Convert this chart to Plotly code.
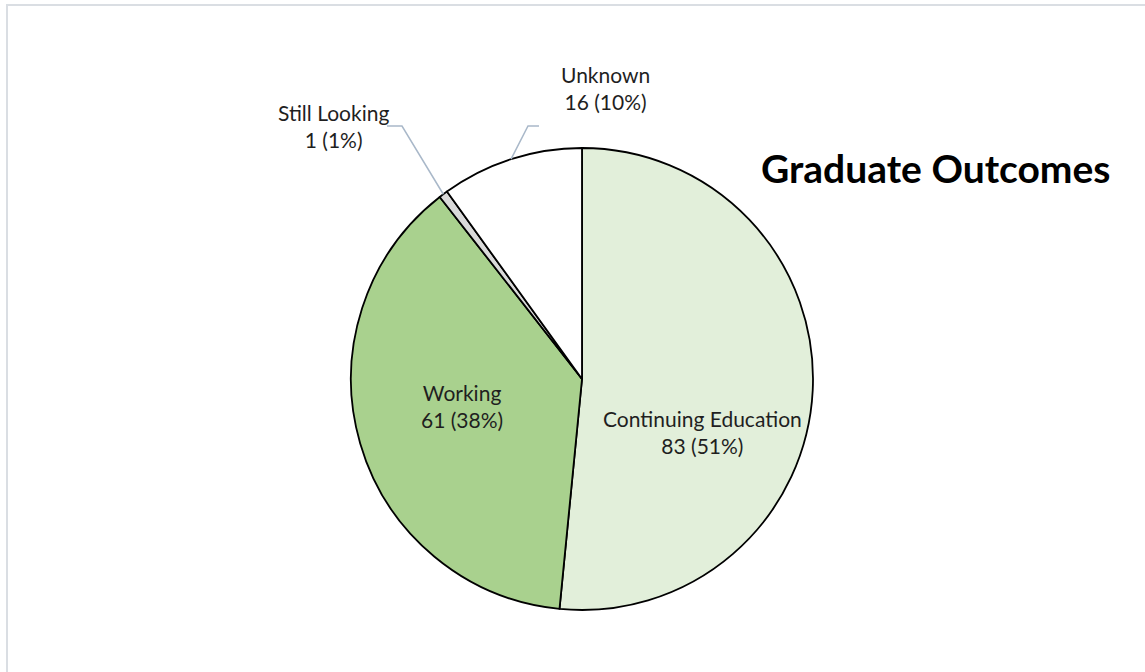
import math
import plotly.graph_objects as go

categories = ["Continuing Education", "Working", "Still Looking", "Unknown"]
counts = [83, 61, 1, 16]
pct_labels = ["51%", "38%", "1%", "10%"]
colors = ["#e2efda", "#a9d18e", "#d9d9d9", "#ffffff"]

W, H = 1145, 672
CX, CY, R = 582, 379, 231  # pie centre / radius in pixels


def px(x, y):
    return x / W, 1 - y / H


fig = go.Figure()
fig.add_trace(go.Pie(
    labels=categories, values=counts, sort=False, direction="clockwise",
    rotation=0, marker=dict(colors=colors, line=dict(color="#000000", width=1.8)),
    textinfo="none", hoverinfo="label+value+percent", showlegend=False,
    domain=dict(x=[(CX - R) / W, (CX + R) / W], y=[(H - CY - R) / H, (H - CY + R) / H]),
))

FONT = "Lato, Calibri, Carlito, sans-serif"
# label centre positions (pixels) - styling
label_pos = {
    "Continuing Education": (702, 432),
    "Working": (462, 406),
    "Still Looking": (333, 126),
    "Unknown": (605, 88),
}
# leader line elbows for outside labels (pixels) - styling
elbows = {
    "Still Looking": [(387, 126), (402, 126)],
    "Unknown": [(539, 126), (528, 126)],
}

total = sum(counts)
cum = 0
for cat, v, p in zip(categories, counts, pct_labels):
    mid = (cum + v / 2) / total
    cum += v
    lx, ly = label_pos[cat]
    ax, ay = px(lx, ly)
    fig.add_annotation(x=ax, y=ay, xref="paper", yref="paper", showarrow=False,
                       xanchor="center", yanchor="middle",
                       text=f"{cat}<br>{v} ({p})", align="center",
                       font=dict(family=FONT, size=21, color="#1f1f1f"))
    if cat in elbows:
        ang = 2 * math.pi * mid
        ex = CX + R * math.sin(ang)
        ey = CY - R * math.cos(ang)
        pts = elbows[cat] + [(ex, ey)]
        path = "M " + " L ".join(f"{px(a, b)[0]},{px(a, b)[1]}" for a, b in pts)
        fig.add_shape(type="path", path=path, xref="paper", yref="paper",
                      line=dict(color="#a9b8c9", width=1.5))

tx, ty = px(936, 168)
fig.add_annotation(x=tx, y=ty, xref="paper", yref="paper", showarrow=False,
                   xanchor="center", yanchor="middle",
                   text="<b>Graduate Outcomes</b>",
                   font=dict(family=FONT, size=39, color="#000000"))

bx0, by0 = px(7, 5)
bx1, by1 = px(W + 10, H + 10)
fig.add_shape(type="rect", xref="paper", yref="paper", x0=bx0, y0=by1, x1=bx1, y1=by0,
              line=dict(color="#dadee3", width=2), fillcolor="rgba(0,0,0,0)")

fig.update_layout(width=W, height=H, margin=dict(l=0, r=0, t=0, b=0),
                  paper_bgcolor="#ffffff", plot_bgcolor="#ffffff")
fig.write_html("out.html", config={"displayModeBar": False},
               post_script="document.body.style.margin='0';")
